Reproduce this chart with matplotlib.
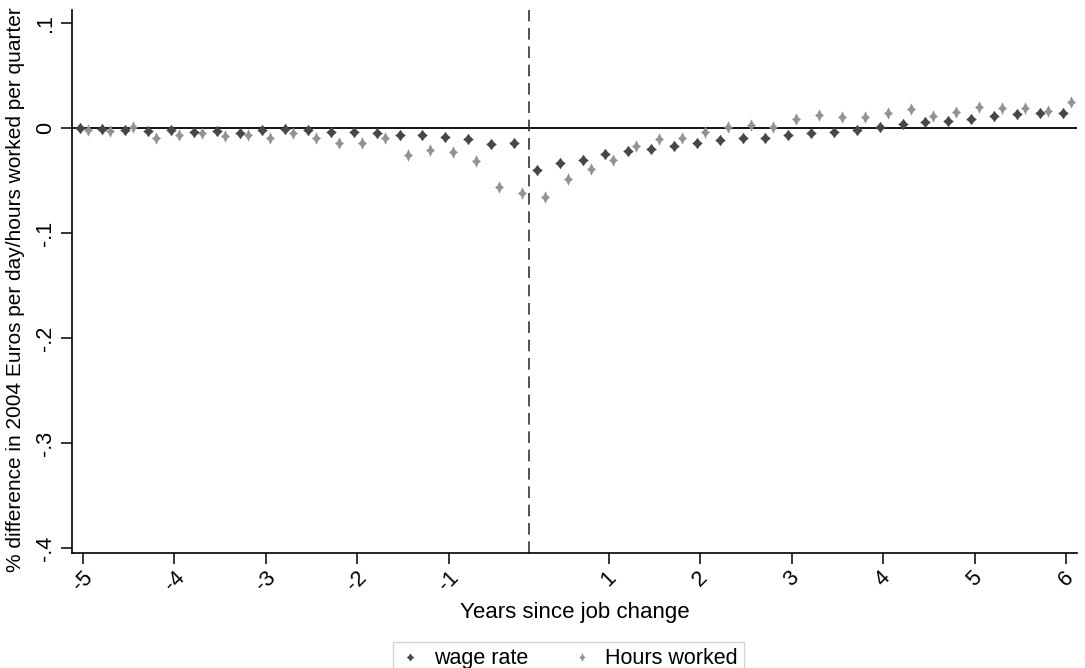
import matplotlib
matplotlib.use("Agg")
import matplotlib.pyplot as plt
import numpy as np
from matplotlib.path import Path

plt.rcParams["font.family"] = ["Liberation Sans", "DejaVu Sans"]

# quarters relative to the job change (the change quarter itself is left out)
quarters = list(range(-20, 0)) + list(range(1, 25))

wage_rate = [
    0.000, -0.001, -0.0016, -0.0025, -0.0016, -0.004, -0.003, -0.0045, -0.002, -0.0005,
    -0.0023, -0.004, -0.0035, -0.005, -0.0064, -0.007, -0.0086, -0.0105, -0.015, -0.0146,
    -0.040, -0.0337, -0.0305, -0.0248, -0.0216, -0.020, -0.0171, -0.0146, -0.0117, -0.0098,
    -0.0098, -0.0067, -0.005, -0.0038, -0.002, 0.001, 0.0038, 0.006, 0.0067, 0.0083,
    0.0114, 0.013, 0.0146, 0.0146,
]
hours_worked = [
    -0.002, -0.0025, 0.0006, -0.0098, -0.0067, -0.005, -0.0076, -0.0067, -0.0098, -0.0044,
    -0.0093, -0.0146, -0.014, -0.0098, -0.0257, -0.021, -0.0225, -0.0314, -0.0565, -0.0622,
    -0.066, -0.049, -0.0394, -0.0305, -0.0168, -0.0105, -0.0098, -0.0041, 0.0013, 0.0029,
    0.0013, 0.0083, 0.0124, 0.0102, 0.0108, 0.0146, 0.0178, 0.0114, 0.015, 0.0197,
    0.0194, 0.0194, 0.0165, 0.0244,
]
year_ticks = [-5, -4, -3, -2, -1, 1, 2, 3, 4, 5, 6]
y_ticks = [0.1, 0, -0.1, -0.2, -0.3, -0.4]
y_ticklabels = [".1", "0", "-.1", "-.2", "-.3", "-.4"]


def pos(q):
    # plotting position: consecutive quarters, with quarter 0 dropped
    q = np.asarray(q)
    return np.where(q < 0, q, q - 1)


def star(w, r):
    # four-pointed star, half-width w, unit half-height, inner radius r
    verts = [(0, 1), (r, r), (w, 0), (r, -r), (0, -1), (-r, -r), (-w, 0), (-r, r), (0, 1)]
    return Path(verts, [Path.MOVETO] + [Path.LINETO] * 7 + [Path.CLOSEPOLY])


DARK = "#474747"
LIGHT = "#939393"
FS = 15.5

fig = plt.figure(figsize=(10.85, 6.68), dpi=100)
ax = fig.add_axes([0.0664, 0.1722, 0.9262, 0.8128])

x = pos(quarters)
ax.axhline(0, color="black", lw=1.3, zorder=1)
ax.axvline(-0.5, color="#333333", lw=1.2, dashes=(7, 4), zorder=1)

ax.plot(x - 0.15, wage_rate, ls="none", marker=star(0.92, 0.42), ms=8.2, color=DARK,
        mec=DARK, mew=0, label="wage rate", zorder=3)
ax.plot(x + 0.2, hours_worked, ls="none", marker=star(0.72, 0.32), ms=9.0, color=LIGHT,
        mec=LIGHT, mew=0, label="Hours worked", zorder=2)

ax.set_xlim(-20.48, 23.48)
ax.set_ylim(-0.4048, 0.1124)

ax.set_xticks(pos([4 * y for y in year_ticks]))
ax.set_xticklabels([str(y) for y in year_ticks], rotation=45, ha="center", va="top",
                   fontsize=FS)
ax.set_yticks(y_ticks)
ax.set_yticklabels(y_ticklabels, rotation=90, va="center", fontsize=FS)
ax.tick_params(direction="out", length=8, width=1.1, color="black")
ax.tick_params(axis="x", pad=2)

for side in ("top", "right"):
    ax.spines[side].set_visible(False)
for side in ("left", "bottom"):
    ax.spines[side].set_linewidth(1.2)

ax.set_xlabel("Years since job change", fontsize=16, labelpad=5)
ax.set_ylabel("% difference in 2004 Euros per day/hours worked per quarter",
              fontsize=15.0, labelpad=4)
ax.yaxis.set_label_coords(-0.047, 0.485)

leg = fig.legend(loc="upper center", bbox_to_anchor=(0.524, 1 - 631 / 668), ncol=2,
                 fontsize=FS, frameon=True, fancybox=False, markerscale=0.7,
                 handlelength=1.0, handletextpad=0.6, columnspacing=2.0,
                 borderpad=0.3, edgecolor="#c8c8c8")
leg.get_frame().set_linewidth(1.0)

fig.savefig("out.png", dpi=100, facecolor="white")
